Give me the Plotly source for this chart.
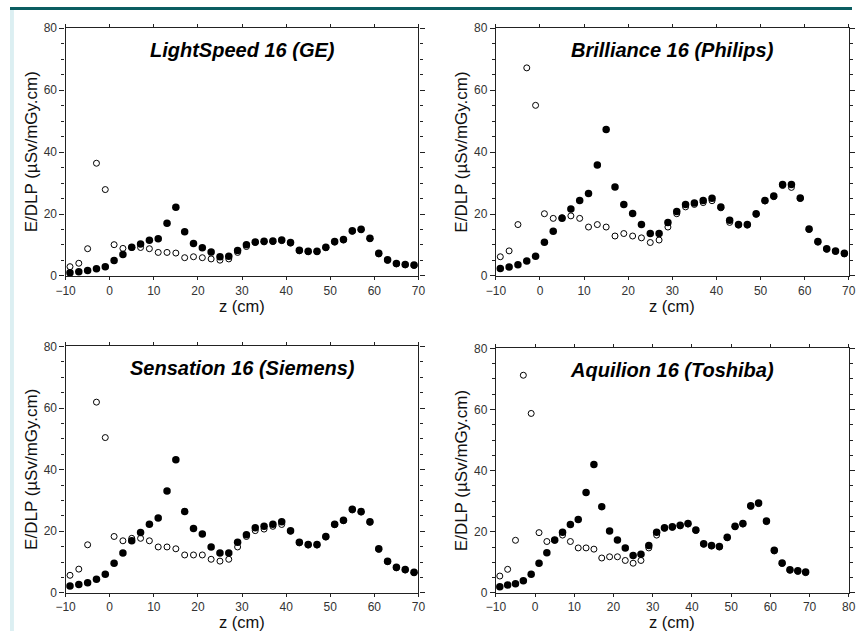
import plotly.graph_objects as go

z = [-9, -7, -5, -3, -1, 1, 3, 5, 7, 9, 11, 13, 15, 17, 19, 21, 23, 25, 27, 29,
     31, 33, 35, 37, 39, 41, 43, 45, 47, 49, 51, 53, 55, 57, 59, 61, 63, 65, 67, 69]

titles = ["LightSpeed 16 (GE)", "Brilliance 16 (Philips)",
          "Sensation 16 (Siemens)", "Aquilion 16 (Toshiba)"]

ge_filled = [1.0, 1.4, 1.8, 2.3, 3.0, 5.0, 6.9, 9.3, 10.3, 11.5, 12.0, 17.0, 22.2, 14.3, 10.5, 9.1, 7.7, 6.2, 6.4, 8.2,
             10.1, 11.0, 11.2, 11.3, 11.6, 10.8, 8.3, 8.0, 8.0, 9.3, 11.1, 11.8, 14.6, 15.1, 12.2, 7.3, 5.2, 4.0, 3.7, 3.5]
ge_open = [3.0, 4.1, 8.8, 36.4, 27.9, 10.1, 8.9, 9.2, 9.2, 8.8, 7.6, 7.6, 7.4, 5.9, 6.2, 5.9, 5.5, 5.1, 5.5, 7.6,
           9.5, 10.8, 11.0, 11.1, 11.4, 10.6, 8.1, 7.8, 7.8, 9.1, 10.9, 11.6, 14.4, 14.9, 12.0, 7.1, 5.0, 3.9, 3.6, 3.4]

ph_filled = [2.4, 2.9, 3.6, 4.8, 6.4, 10.9, 14.4, 18.6, 21.6, 24.4, 26.6, 35.8, 47.3, 28.7, 23.1, 20.2, 16.6, 13.7, 13.7, 17.3,
             20.8, 23.1, 23.6, 24.4, 25.1, 22.3, 18.0, 16.6, 16.6, 20.1, 24.4, 25.8, 29.5, 29.5, 25.2, 15.2, 11.1, 8.8, 8.1, 7.3]
ph_open = [6.2, 8.1, 16.6, 67.2, 55.1, 20.1, 18.6, 18.8, 19.4, 18.6, 15.8, 16.6, 15.8, 12.9, 13.7, 12.9, 12.3, 10.8, 11.6, 15.8,
           20.1, 22.3, 23.1, 23.7, 24.3, 22.0, 17.3, 16.4, 16.4, 19.9, 24.2, 25.6, 29.2, 28.6, 25.0, 15.0, 10.9, 8.6, 7.9, 7.1]

si_filled = [2.2, 2.7, 3.3, 4.4, 6.0, 9.6, 12.9, 16.9, 19.6, 22.3, 24.3, 33.1, 43.2, 26.4, 20.9, 19.1, 14.9, 12.9, 12.9, 16.4,
             18.9, 21.1, 21.6, 22.3, 23.1, 20.2, 16.4, 15.7, 15.7, 18.3, 22.3, 23.6, 27.1, 26.4, 23.1, 14.3, 10.3, 8.3, 7.6, 6.7]
si_open = [5.7, 7.7, 15.6, 61.9, 50.4, 18.3, 16.9, 17.7, 17.7, 16.9, 14.9, 14.9, 14.3, 12.3, 12.3, 12.3, 10.9, 10.3, 10.9, 14.9,
           18.3, 20.2, 20.7, 21.6, 22.2, 20.0, 16.2, 15.5, 15.5, 18.1, 22.1, 23.4, 26.9, 26.2, 22.9, 14.1, 10.1, 8.1, 7.4, 6.5]

to_filled = [2.0, 2.6, 3.0, 4.0, 6.1, 9.7, 13.1, 17.3, 19.8, 22.4, 24.0, 32.8, 42.0, 28.2, 20.2, 17.3, 14.7, 12.2, 12.6, 15.5,
             19.8, 21.3, 21.6, 22.1, 22.7, 20.6, 16.1, 15.5, 15.2, 18.2, 21.8, 22.7, 28.5, 29.4, 23.5, 13.9, 9.8, 7.6, 7.2, 6.8]
to_open = [5.5, 7.7, 17.2, 71.2, 58.7, 19.7, 16.8, 17.2, 18.9, 16.8, 14.7, 14.7, 14.3, 11.4, 11.8, 11.8, 10.6, 9.7, 10.6, 14.7,
           18.9, 21.1, 21.4, 21.9, 22.5, 20.4, 15.9, 15.3, 15.0, 18.0, 21.6, 22.5, 28.3, 29.2, 23.3, 13.7, 9.6, 7.4, 7.0, 6.6]

filled = [ge_filled, ph_filled, si_filled, to_filled]
opened = [ge_open, ph_open, si_open, to_open]

x_ranges = [[-10, 70], [-10, 70], [-10, 70], [-10, 80]]
y_range = [0, 80]

W, H = 859, 638
# pixel boxes (left, right, top, bottom) for each panel
boxes = [(56.7, 416.7, 21.7, 275.0), (495.7, 855.7, 21.7, 275.0),
         (56.7, 416.7, 347.0, 599.0), (495.7, 855.7, 349.0, 599.0)]
xtitle_gap = [30.5, 30.5, 30.0, 30.0]

fig = go.Figure()
font_fam = "Liberation Sans, Arial, sans-serif"
layout = dict(width=W, height=H, margin=dict(l=0, r=0, t=0, b=0),
              paper_bgcolor="white", plot_bgcolor="white", showlegend=False)
annotations = []
shapes = []

for i in range(4):
    xa = "xaxis" if i == 0 else f"xaxis{i+1}"
    ya = "yaxis" if i == 0 else f"yaxis{i+1}"
    xr = "x" if i == 0 else f"x{i+1}"
    yr = "y" if i == 0 else f"y{i+1}"
    l, r, t, b = boxes[i]
    layout[xa] = dict(domain=[l / W, r / W], range=x_ranges[i], anchor=yr,
                      dtick=10, ticks="outside", ticklen=3, tickwidth=1, tickcolor="#222",
                      showline=True, linecolor="#222", linewidth=1.3, mirror="ticks",
                      showgrid=False, zeroline=False,
                      tickfont=dict(family=font_fam, size=12, color="#333"))
    layout[ya] = dict(domain=[1 - b / H, 1 - t / H], range=y_range, anchor=xr,
                      dtick=20, ticks="outside", ticklen=5, tickwidth=1, tickcolor="#222",
                      minor=dict(dtick=5, ticks="outside", ticklen=3, tickcolor="#222"),
                      showline=True, linecolor="#222", linewidth=1.3, mirror="ticks",
                      showgrid=False, zeroline=False,
                      tickfont=dict(family=font_fam, size=12, color="#333"))
    fig.add_trace(go.Scatter(x=z, y=opened[i], mode="markers", xaxis=xr, yaxis=yr,
                             marker=dict(symbol="circle-open", size=6, color="black",
                                         line=dict(width=1, color="black"))))
    fig.add_trace(go.Scatter(x=z, y=filled[i], mode="markers", xaxis=xr, yaxis=yr,
                             marker=dict(symbol="circle", size=7.5, color="black")))
    cx = (l + r) / 2
    annotations.append(dict(text=f"<b><i>{titles[i]}</i></b>", x=cx / W, y=1 - (t + 22) / H,
                            xref="paper", yref="paper", showarrow=False,
                            font=dict(family=font_fam, size=20, color="black"),
                            xanchor="center", yanchor="middle"))
    annotations.append(dict(text="z (cm)", x=cx / W, y=1 - (b + xtitle_gap[i]) / H,
                            xref="paper", yref="paper", showarrow=False,
                            font=dict(family=font_fam, size=16.5, color="#111"),
                            xanchor="center", yanchor="middle"))
    annotations.append(dict(text="E/DLP (µSv/mGy.cm)", x=(l - 35) / W, y=1 - (t + b) / 2 / H,
                            xref="paper", yref="paper", showarrow=False, textangle=-90,
                            font=dict(family=font_fam, size=17, color="#111"),
                            xanchor="center", yanchor="middle"))

shapes.append(dict(type="rect", xref="paper", yref="paper", x0=0, x1=1, y0=1 - 3 / H, y1=1,
                   fillcolor="#0b5d61", line=dict(width=0), layer="below"))
shapes.append(dict(type="rect", xref="paper", yref="paper", x0=0, x1=4 / W, y0=0, y1=1 - 3 / H,
                   fillcolor="#dcefF2", line=dict(width=0), layer="below"))

layout["annotations"] = annotations
layout["shapes"] = shapes
fig.update_layout(**layout)
fig.write_html("out.html", config={"displayModeBar": False},
               post_script="document.body.style.margin='0';document.body.style.overflow='hidden';")
